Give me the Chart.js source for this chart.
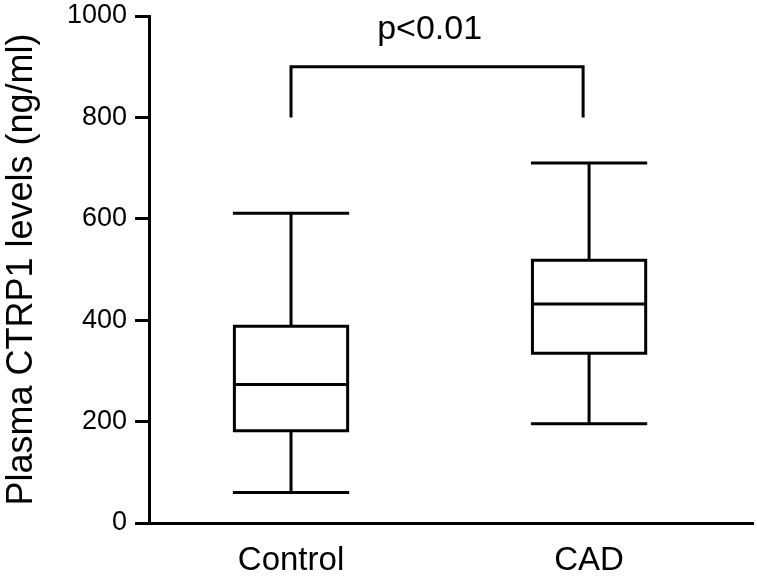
<!DOCTYPE html>
<html>
<head>
<meta charset="utf-8">
<script src="https://cdn.jsdelivr.net/npm/chart.js@4.4.1/dist/chart.umd.min.js"></script>
<style>
  html, body { margin: 0; padding: 0; background: #fff; }
  #wrap { width: 757px; height: 580px; }
</style>
</head>
<body>
<div id="wrap"><canvas id="boxChart"></canvas></div>
<script>
// group labels and box statistics (ng/ml)
const categories = ['Control', 'CAD']
const minValues = [60, 196]
const q1Values = [182, 335]
const medianValues = [273, 432]
const q3Values = [388, 518]
const maxValues = [611, 710]

const yTicks = [0, 200, 400, 600, 800, 1000]

// significance bracket between the two groups
const bracketX = [1, 1.98]
const bracketY = [800, 900]
const pText = 'p<0.01'
const pTextPos = { x: 1.465, y: 954 }

const FONT = "'Liberation Sans', Arial, Helvetica, sans-serif"
const BOX_HALF = 0.19

// build box outlines, whiskers and medians as one broken line
const boxPoints = []
const gap = () => boxPoints.push({ x: 0, y: null })
categories.forEach((name, i) => {
  const x = i + 1
  // box
  boxPoints.push({ x: x - BOX_HALF, y: q1Values[i] })
  boxPoints.push({ x: x + BOX_HALF, y: q1Values[i] })
  boxPoints.push({ x: x + BOX_HALF, y: q3Values[i] })
  boxPoints.push({ x: x - BOX_HALF, y: q3Values[i] })
  boxPoints.push({ x: x - BOX_HALF, y: q1Values[i] })
  gap()
  // median
  boxPoints.push({ x: x - BOX_HALF, y: medianValues[i] })
  boxPoints.push({ x: x + BOX_HALF, y: medianValues[i] })
  gap()
  // upper whisker + cap
  boxPoints.push({ x: x, y: q3Values[i] })
  boxPoints.push({ x: x, y: maxValues[i] })
  gap()
  boxPoints.push({ x: x - BOX_HALF, y: maxValues[i] })
  boxPoints.push({ x: x + BOX_HALF, y: maxValues[i] })
  gap()
  // lower whisker + cap
  boxPoints.push({ x: x, y: q1Values[i] })
  boxPoints.push({ x: x, y: minValues[i] })
  gap()
  boxPoints.push({ x: x - BOX_HALF, y: minValues[i] })
  boxPoints.push({ x: x + BOX_HALF, y: minValues[i] })
  gap()
})

const bracketPoints = [
  { x: bracketX[0], y: bracketY[0] },
  { x: bracketX[0], y: bracketY[1] },
  { x: bracketX[1], y: bracketY[1] },
  { x: bracketX[1], y: bracketY[0] }
]

const lineStyle = {
  borderColor: '#000',
  borderWidth: 3,
  pointRadius: 0,
  showLine: true,
  fill: false,
  spanGaps: false,
  borderJoinStyle: 'miter',
  borderCapStyle: 'square'
}

// p-value text above the bracket
const pLabelPlugin = {
  id: 'pLabel',
  afterDraw(chart) {
    const ctx = chart.ctx
    const xs = chart.scales.x
    const ys = chart.scales.y
    ctx.save()
    ctx.fillStyle = '#000'
    ctx.font = '34px ' + FONT
    ctx.textAlign = 'center'
    ctx.textBaseline = 'alphabetic'
    ctx.fillText(pText, xs.getPixelForValue(pTextPos.x), ys.getPixelForValue(pTextPos.y))
    ctx.restore()
  }
}

new Chart(document.getElementById('boxChart'), {
  type: 'scatter',
  data: {
    datasets: [
      Object.assign({ label: 'boxes', data: boxPoints }, lineStyle),
      Object.assign({ label: 'bracket', data: bracketPoints }, lineStyle, { borderCapStyle: 'butt' })
    ]
  },
  options: {
    responsive: true,
    maintainAspectRatio: false,
    animation: false,
    layout: { padding: { top: 16, right: 4, bottom: 0, left: 0 } },
    plugins: {
      legend: { display: false },
      tooltip: { enabled: false }
    },
    scales: {
      x: {
        type: 'linear',
        min: 0.5235,
        max: 2.55,
        afterBuildTicks: (scale) => {
          scale.ticks = categories.map((c, i) => ({ value: i + 1 }))
        },
        afterFit: (scale) => {
          scale.height = 57
        },
        ticks: {
          color: '#000',
          font: { family: FONT, size: 33 },
          padding: 18,
          maxRotation: 0,
          callback: (v) => categories[v - 1]
        },
        grid: { display: true, drawOnChartArea: false, drawTicks: false },
        border: { display: true, color: '#000', width: 3 }
      },
      y: {
        min: 0,
        max: 1000,
        afterBuildTicks: (scale) => {
          scale.ticks = yTicks.map((v) => ({ value: v }))
        },
        afterFit: (scale) => {
          scale.width = 149
          scale.paddingTop = 0
          scale.paddingBottom = 0
        },
        ticks: {
          color: '#000',
          font: { family: FONT, size: 27 },
          padding: 8,
          callback: (v) => String(v)
        },
        grid: {
          display: true,
          drawOnChartArea: false,
          drawTicks: true,
          tickLength: 14,
          tickWidth: 3,
          tickColor: '#000'
        },
        border: { display: true, color: '#000', width: 3 },
        title: {
          display: true,
          text: 'Plasma CTRP1 levels (ng/ml)',
          color: '#000',
          font: { family: FONT, size: 36 },
          padding: { top: 0, bottom: 0 }
        }
      }
    }
  },
  plugins: [pLabelPlugin]
})
</script>
</body>
</html>
